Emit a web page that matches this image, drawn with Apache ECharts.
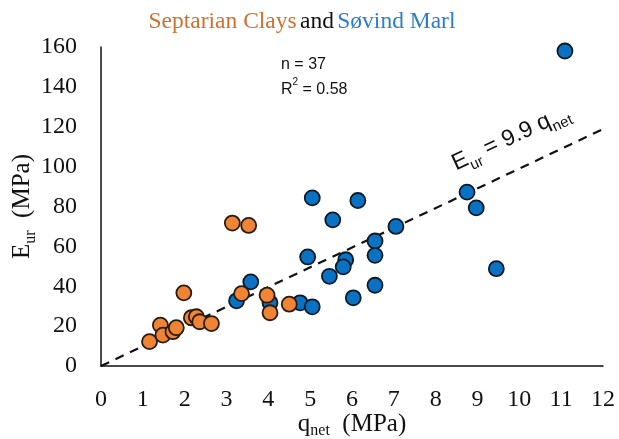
<!DOCTYPE html>
<html>
<head>
<meta charset="utf-8">
<script src="https://cdn.jsdelivr.net/npm/echarts@6/dist/echarts.min.js"></script>
<style>
	html, body { margin: 0; padding: 0; background: #fff; }
	#chart { width: 619px; height: 439px; }
</style>
</head>
<body>
<div id="chart"></div>
<script>
// Septarian Clays (orange)
var clayQ = [1.16, 1.42, 1.48, 1.72, 1.80, 1.98, 2.16, 2.28, 2.36, 2.64, 3.14, 3.53, 3.36, 3.97, 4.04, 4.50];
var clayE = [12.2, 20.5, 15.5, 17.2, 19.2, 36.7, 24.2, 24.7, 22.2, 21.3, 71.7, 70.5, 36.3, 35.5, 26.7, 31.0];
// Søvind Marl (blue)
var marlQ = [3.58, 3.24, 4.04, 4.76, 5.05, 5.05, 6.14, 5.54, 7.05, 6.55, 6.55, 4.94, 5.85, 5.79, 5.46, 6.55, 6.03, 8.75, 8.97, 11.09, 9.45];
var marlE = [42.2, 32.7, 31.7, 31.7, 29.7, 84.3, 83.0, 73.3, 70.0, 62.7, 55.5, 54.7, 53.3, 49.7, 45.0, 40.5, 34.2, 87.2, 79.3, 158.0, 48.8];
// fit line E_ur = 9.9 q_net
var fitQ = [0, 12];
var fitE = [0, 118.8];
var xTicks = [0, 1, 2, 3, 4, 5, 6, 7, 8, 9, 10, 11, 12];
var yTicks = [0, 20, 40, 60, 80, 100, 120, 140, 160];

function pairs(a, b) {
	var out = [];
	for (var i = 0; i < a.length; i++) {
		out.push([a[i], b[i]]);
	}
	return out;
}

var serif = 'Liberation Serif';
var sans = 'Liberation Sans';
// rich styles for text with a subscript
function subRich(font, size, subSize, isFill, drop) {
	var m = { fontFamily: font, fontSize: size, lineHeight: size + 4, verticalAlign: 'bottom' };
	var s = { fontFamily: font, fontSize: subSize, lineHeight: subSize, verticalAlign: 'bottom', padding: [0, 0, -drop, 0] };
	if (isFill) { m.fill = '#111'; s.fill = '#111'; } else { m.color = '#111'; s.color = '#111'; }
	return { m: m, s: s };
}

var myChart = echarts.init(document.getElementById('chart'));
var option = {
	animation: false,
	grid: {
		left: 101,
		right: 16,
		top: 47,
		bottom: 73,
		outerBoundsMode: 'none'
	},
	xAxis: {
		type: 'value',
		min: xTicks[0],
		max: xTicks[xTicks.length - 1],
		interval: 1,
		splitLine: { show: false },
		axisTick: { show: false },
		axisLine: { lineStyle: { color: '#111', width: 1.5 } },
		axisLabel: { fontFamily: serif, fontSize: 24, color: '#111', margin: 22 },
		name: '{m|q}{s|net}{m|  (MPa)}',
		nameLocation: 'middle',
		nameGap: 42,
		nameMoveOverlap: false,
		nameTextStyle: { rich: subRich(serif, 25, 16, false, 2) }
	},
	yAxis: {
		type: 'value',
		min: yTicks[0],
		max: yTicks[yTicks.length - 1],
		interval: 20,
		splitLine: { show: false },
		axisTick: { show: false },
		axisLine: { lineStyle: { color: '#111', width: 1.5 } },
		axisLabel: { fontFamily: serif, fontSize: 24, color: '#111', margin: 24 },
		name: '{m|E}{s|ur}{m|  (MPa)}',
		nameLocation: 'middle',
		nameGap: 66,
		nameRotate: 90,
		nameMoveOverlap: false,
		nameTextStyle: { rich: subRich(serif, 25, 16, false, 4) }
	},
	graphic: [{
		type: 'text',
		x: 302,
		y: 22,
		style: {
			text: '{o|Septarian Clays} {k|and} {b|Søvind Marl}',
			align: 'center',
			verticalAlign: 'middle',
			rich: {
				o: { fontFamily: serif, fontSize: 23.5, fill: '#D0702E' },
				k: { fontFamily: serif, fontSize: 23.5, fill: '#111' },
				b: { fontFamily: serif, fontSize: 23.5, fill: '#2C7EC6' }
			}
		}
	}, {
		type: 'text',
		left: 281,
		top: 57,
		style: {
			text: '{t|n = 37}\n{t|R}{p|2}{t| = 0.58}',
			rich: {
				t: { fontFamily: sans, fontSize: 16, fill: '#111', lineHeight: 25 },
				p: { fontFamily: sans, fontSize: 10, fill: '#111', verticalAlign: 'top', lineHeight: 19 }
			}
		}
	}, {
		type: 'text',
		x: 510,
		y: 136,
		rotation: 25 * Math.PI / 180,
		style: {
			text: '{m|E}{s|ur}{m| = 9.9 q}{s|net}',
			align: 'center',
			verticalAlign: 'middle',
			rich: subRich(sans, 23, 15, true, 5)
		}
	}],
	series: [{
		name: 'fit',
		type: 'line',
		data: pairs(fitQ, fitE),
		symbol: 'none',
		lineStyle: { color: '#111', width: 2.2, type: [9, 7] },
		z: 1
	}, {
		name: 'Septarian Clays',
		type: 'scatter',
		data: pairs(clayQ, clayE),
		symbolSize: 15,
		itemStyle: { color: '#EE8434', borderColor: '#2a1a10', borderWidth: 1.8, opacity: 1 },
		z: 3
	}, {
		name: 'Søvind Marl',
		type: 'scatter',
		data: pairs(marlQ, marlE),
		symbolSize: 15,
		itemStyle: { color: '#0A72C2', borderColor: '#0d1a26', borderWidth: 1.8, opacity: 1 },
		z: 2
	}]
};
myChart.setOption(option);
</script>
</body>
</html>
